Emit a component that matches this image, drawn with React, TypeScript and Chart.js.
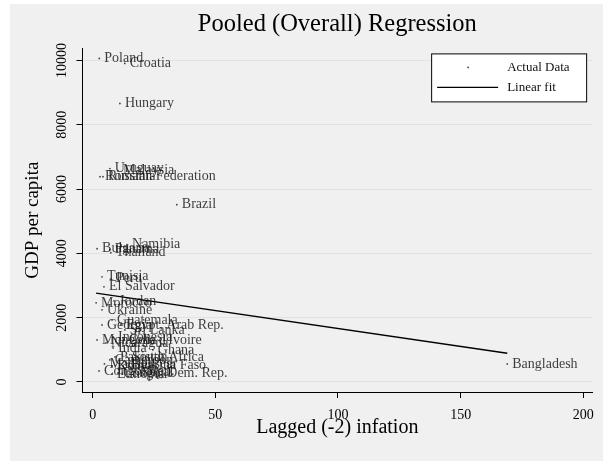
import React, { useEffect, useRef } from 'react';
import { Chart, registerables } from 'chart.js';

Chart.register(...registerables);

const countries = [
  'Poland', 'Croatia', 'Hungary', 'Uruguay', 'Malaysia', 'Romania', 'Russian Federation',
  'Brazil', 'Namibia', 'Bulgaria', 'Panama', 'Thailand', 'Tunisia', 'Peru', 'El Salvador',
  'Jordan', 'Morocco', 'Ukraine', 'Guatemala', 'Georgia', 'Egypt, Arab Rep.', 'Sri Lanka',
  'Indonesia', 'Mongolia', "Cote d'Ivoire", 'Nicaragua', 'India', 'Ghana', 'Pakistan',
  'South Africa', 'Cameroon', 'Madagascar', 'Burkina Faso', 'Kenya', 'Congo, Rep.', 'Nepal',
  'Congo, Dem. Rep.', 'Ethiopia', 'Bangladesh',
];
const inflation = [
  2.7, 13.1, 11.1, 7.0, 10.3, 3.0, 4.2,
  34.3, 14.0, 1.8, 7.0, 7.4, 3.8, 7.5, 4.6,
  8.7, 1.4, 3.8, 7.9, 3.8, 11.5, 13.1,
  8.3, 1.8, 12.7, 5.4, 8.3, 24.5, 9.1,
  14.0, 7.0, 4.8, 13.6, 7.9, 2.6, 17.2,
  10.3, 7.9, 169.0,
];
const gdpPerCapita = [
  10062, 9907, 8660, 6636, 6573, 6386, 6386,
  5514, 4268, 4143, 4112, 4019, 3271, 3209, 2960,
  2523, 2461, 2243, 1931, 1776, 1776, 1620,
  1402, 1308, 1308, 1215, 1059, 997, 779,
  779, 685, 561, 530, 498, 343, 312,
  280, 249, 561,
];
const fitIntercept = 2778;
const fitSlope = -11.15;
const xTicks = [0, 50, 100, 150, 200];
const yTicks = [0, 2000, 4000, 6000, 8000, 10000];
const legendLabels = ['Actual Data', 'Linear fit'];
const chartTitle = 'Pooled (Overall) Regression';
const xTitle = 'Lagged (-2) infation';
const yTitle = 'GDP per capita';

const SERIF = '"Liberation Serif", "DejaVu Serif", serif';

const pointLabelPlugin = {
  id: 'pointLabels',
  afterDatasetsDraw(chart: any) {
    const meta = chart.getDatasetMeta(0);
    const ctx = chart.ctx;
    ctx.save();
    ctx.font = `14px ${SERIF}`;
    ctx.fillStyle = 'rgba(20,20,20,0.82)';
    ctx.textAlign = 'left';
    ctx.textBaseline = 'middle';
    meta.data.forEach((el: any, i: number) => {
      ctx.fillText(countries[i], el.x + 5, el.y);
    });
    ctx.restore();
  },
};

const boxLegendPlugin = {
  id: 'boxLegend',
  afterDraw(chart: any) {
    const { ctx, chartArea } = chart;
    const w = 156;
    const h = 49;
    const x0 = chartArea.right - 5 - w;
    const y0 = chartArea.top + 5;
    ctx.save();
    ctx.fillStyle = '#ffffff';
    ctx.fillRect(x0, y0, w, h);
    ctx.strokeStyle = '#000';
    ctx.lineWidth = 1;
    ctx.strokeRect(x0 + 0.5, y0 + 0.5, w - 1, h - 1);
    ctx.fillStyle = '#444';
    ctx.beginPath();
    ctx.arc(x0 + 37, y0 + 14, 0.9, 0, Math.PI * 2);
    ctx.fill();
    ctx.strokeStyle = '#000';
    ctx.lineWidth = 1.3;
    ctx.beginPath();
    ctx.moveTo(x0 + 6, y0 + 34);
    ctx.lineTo(x0 + 67, y0 + 34);
    ctx.stroke();
    ctx.fillStyle = '#111';
    ctx.font = `13px ${SERIF}`;
    ctx.textAlign = 'left';
    ctx.textBaseline = 'middle';
    ctx.fillText(legendLabels[0], x0 + 76, y0 + 14);
    ctx.fillText(legendLabels[1], x0 + 76, y0 + 34);
    ctx.restore();
  },
};

export default function App() {
  const ref = useRef<HTMLCanvasElement | null>(null);

  useEffect(() => {
    if (!ref.current) return;
    const points = inflation.map((x, i) => ({ x, y: gdpPerCapita[i] }));
    const xMin = Math.min(...inflation);
    const xMax = Math.max(...inflation);
    const fitLine = [
      { x: xMin, y: fitIntercept + fitSlope * xMin },
      { x: xMax, y: fitIntercept + fitSlope * xMax },
    ];
    const chart = new Chart(ref.current, {
      type: 'scatter',
      data: {
        datasets: [
          {
            label: legendLabels[0],
            data: points,
            pointRadius: 0.9,
            pointBackgroundColor: '#444',
            pointBorderWidth: 0,
          },
          {
            label: legendLabels[1],
            data: fitLine,
            showLine: true,
            borderColor: '#000',
            borderWidth: 1.3,
            pointRadius: 0,
          },
        ],
      },
      options: {
        animation: false,
        responsive: false,
        layout: { padding: { left: 0, right: 10, top: 0, bottom: 0 } },
        plugins: {
          legend: { display: false },
          tooltip: { enabled: false },
          title: {
            display: true,
            text: chartTitle,
            fullSize: false,
            color: '#000',
            font: { family: SERIF, size: 24.5, weight: 'normal' },
            padding: { top: 6, bottom: 9 },
          },
        },
        scales: {
          x: {
            type: 'linear',
            min: -4.15,
            max: 203.6,
            afterBuildTicks: (s: any) => {
              s.ticks = xTicks.map((v) => ({ value: v }));
            },
            afterFit: (s: any) => {
              s.height = 69;
            },
            grid: { drawOnChartArea: false, tickLength: 6, tickColor: '#000', tickWidth: 1 },
            border: { color: '#000', width: 1 },
            ticks: {
              color: '#000',
              font: { family: SERIF, size: 14 },
              padding: 9,
              maxRotation: 0,
              callback: (v: any) => String(v),
            },
            title: {
              display: true,
              text: xTitle,
              color: '#000',
              font: { family: SERIF, size: 20 },
              padding: { top: 0, bottom: 21 },
            },
          },
          y: {
            type: 'linear',
            min: -311,
            max: 10374,
            afterBuildTicks: (s: any) => {
              s.ticks = yTicks.map((v) => ({ value: v }));
            },
            afterFit: (s: any) => {
              s.width = 72.5;
            },
            grid: { color: '#e2e2e2', lineWidth: 1, tickLength: 6, tickColor: '#000', tickWidth: 1 },
            border: { color: '#000', width: 1 },
            ticks: {
              color: '#000',
              font: { family: SERIF, size: 14 },
              minRotation: 90,
              maxRotation: 90,
              crossAlign: 'center',
              padding: -3,
              callback: (v: any) => String(v),
            },
            title: {
              display: true,
              text: yTitle,
              color: '#000',
              font: { family: SERIF, size: 19 },
              padding: { top: 12, bottom: 0 },
            },
          },
        },
      },
      plugins: [pointLabelPlugin, boxLegendPlugin],
    } as any);
    return () => chart.destroy();
  }, []);

  return (
    <div
      style={{
        position: 'absolute',
        left: 10,
        top: 4,
        width: 593,
        height: 457,
        background: '#f0f0f0',
      }}
    >
      <canvas ref={ref} width={593} height={457} style={{ display: 'block' }} />
    </div>
  );
}
